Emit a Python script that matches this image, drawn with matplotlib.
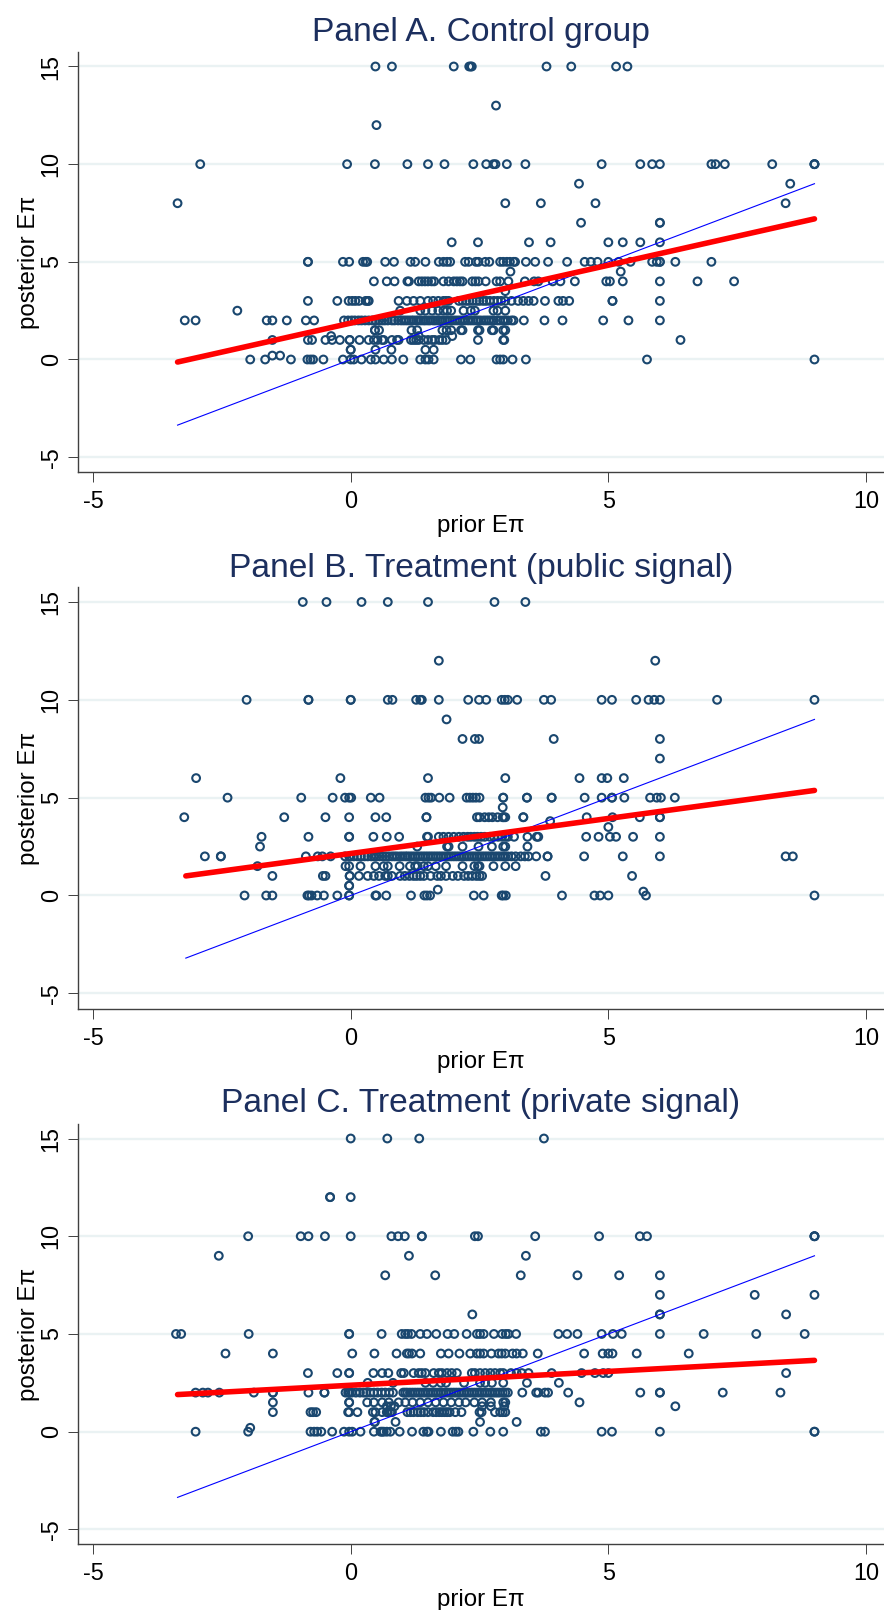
import matplotlib
matplotlib.use("Agg")
import matplotlib.pyplot as plt

plt.rcParams['font.family'] = ['Liberation Sans', 'DejaVu Sans']
plt.rcParams['axes.unicode_minus'] = False

W, H = 884, 1610

titles = ["Panel A. Control group", "Panel B. Treatment (public signal)", "Panel C. Treatment (private signal)"]
x_ticks = [-5, 0, 5, 10]
y_ticks = [-5, 0, 5, 10, 15]

# Panel A, prior values listed by posterior level
a_levels = [15, 13, 12, 10, 9, 8, 7, 6, 5, 4.5, 4, 3.5, 3, 2.5, 2, 1.5, 1.2, 1, 0.5, 0.2, 0]
a_priors = [
    [0.48, 0.8, 2.0, 2.3, 2.33, 2.35, 3.8, 4.28, 5.15, 5.37],
    [2.82],
    [0.5],
    [-2.92, -0.07, 0.47, 1.1, 1.5, 1.82, 2.38, 2.63, 2.77, 2.81, 3.03, 3.39, 4.87, 5.62, 5.85, 6.0, 7.0, 7.08, 7.26, 8.18, 9, 9, 9],
    [4.43, 8.53],
    [-3.36, 3.0, 3.69, 4.75, 8.44],
    [4.47, 6, 6],
    [1.96, 2.47, 3.46, 3.88, 5, 5.28, 5.62, 6],
    [-0.83, -0.83, -0.15, -0.03, 0.24, 0.29, 0.32, 0.67, 0.84, 1.16, 1.25, 1.45, 1.71, 1.8, 1.87, 1.93, 2.22, 2.29, 2.43, 2.48, 2.61, 2.69,
     2.9, 2.96, 3.03, 3.09, 3.16, 3.19, 3.4, 3.58, 3.83, 4.2, 4.54, 4.66, 4.79, 5, 5.2, 5.43, 5.85, 5.94, 6, 6, 6.3, 7],
    [3.1, 5.24],
    [0.45, 0.7, 0.85, 1.1, 1.13, 1.32, 1.38, 1.44, 1.5, 1.57, 1.62, 1.8, 1.9, 2.0, 2.06, 2.12, 2.17, 2.36, 2.42, 2.48, 2.62, 2.83, 2.9, 3.06,
     3.38, 3.56, 3.64, 3.92, 4.07, 4.35, 4.96, 5.03, 5.28, 6, 6.73, 7.44],
    [3.0],
    [-0.83, -0.26, -0.04, 0.03, 0.09, 0.16, 0.29, 0.33, 0.35, 0.93, 1.09, 1.22, 1.35, 1.5, 1.6, 1.7, 1.8, 1.85, 1.9, 2.1, 2.17, 2.24, 2.3, 2.37,
     2.44, 2.5, 2.57, 2.63, 2.7, 2.78, 2.85, 2.92, 3.0, 3.12, 3.25, 3.35, 3.45, 3.55, 3.77, 4.03, 4.12, 4.24, 5.08, 5.08, 6],
    [-2.2, 0.96, 1.35, 1.45, 1.58, 1.7, 1.8, 1.87, 1.95, 2.19, 2.33, 2.41, 2.77, 2.85, 3.0],
    [-3.22, -3.01, -1.63, -1.52, -1.24, -0.87, -0.71, -0.13, -0.05, 0.02, 0.08, 0.15, 0.21, 0.28, 0.35, 0.42, 0.48, 0.55, 0.61, 0.66, 0.72, 0.8,
     0.85, 0.92, 0.98, 1.03, 1.08, 1.13, 1.18, 1.22, 1.27, 1.31, 1.36, 1.41, 1.45, 1.5, 1.54, 1.6, 1.64, 1.69, 1.73, 1.78, 1.83, 1.88, 1.92, 1.97,
     2.02, 2.07, 2.12, 2.17, 2.22, 2.28, 2.33, 2.38, 2.43, 2.47, 2.52, 2.58, 2.63, 2.68, 2.73, 2.78, 2.85, 2.9, 2.96, 3.0, 3.05, 3.12, 3.16, 3.36,
     3.76, 4.11, 4.9, 5.39, 6],
    [0.47, 0.47, 0.55, 1.18, 1.29, 1.78, 1.86, 1.95, 2.14, 2.17, 2.47, 2.5, 2.74, 2.77, 2.96, 3.0],
    [-0.38, 1.32, 1.97],
    [-1.52, -0.83, -0.75, -0.49, -0.36, -0.21, -0.02, -0.02, 0.17, 0.35, 0.45, 0.52, 0.61, 0.64, 0.8, 0.9, 0.93, 1.17, 1.22, 1.27, 1.32, 1.42, 1.5,
     1.58, 1.63, 1.72, 1.78, 1.85, 2.47, 2.96, 2.98, 6.4],
    [-0.0, 0.0, 0.48, 0.79, 1.45, 1.61],
    [-1.52, -1.37],
    [-1.95, -1.66, -1.16, -0.84, -0.78, -0.73, -0.53, -0.15, 0, 0.06, 0.21, 0.39, 0.48, 0.64, 0.8, 1.02, 1.35, 1.45, 1.51, 1.61, 2.14, 2.32, 2.83,
     2.9, 2.96, 3.14, 3.4, 5.75, 9],
]

# Panel B
b_levels = [15, 12, 10, 9, 8, 7, 6, 5, 4.5, 4, 3.8, 3.5, 3, 2.5, 2, 1.5, 1, 0.5, 0.3, 0.2, 0]
b_priors = [
    [-0.93, -0.47, 0.21, 0.72, 1.5, 2.79, 3.39],
    [1.71, 5.91],
    [-2.02, -0.82, -0.82, 0, 0, 0.72, 0.81, 1.27, 1.35, 1.38, 1.71, 2.28, 2.49, 2.63, 2.93, 2.99, 3.05, 3.23, 3.75, 3.89, 4.87, 5.07, 5.54, 5.78, 5.89, 6, 7.11, 9],
    [1.86],
    [2.17, 2.41, 2.49, 3.94, 6],
    [6],
    [-3, -0.2, 1.5, 3, 4.44, 4.87, 4.98, 5.3],
    [-2.39, -0.96, -0.35, -0.11, -0.03, 0.01, 0.39, 0.56, 1.45, 1.51, 1.56, 1.72, 1.92, 2.25, 2.31, 2.37, 2.43, 2.5, 2.96, 2.96, 3.42, 3.42, 3.9, 3.9,
     4.54, 4.87, 5.07, 5.07, 5.31, 5.81, 5.94, 6.02, 6.29],
    [2.95],
    [-3.23, -1.29, -0.49, -0.03, 0.48, 0.69, 1.47, 1.47, 2.45, 2.5, 2.6, 2.68, 2.75, 2.85, 2.95, 2.97, 3.0, 3.35, 3.35, 4.58, 5.08, 5.61, 6, 6],
    [3.87],
    [5],
    [-1.73, -0.82, -0.03, -0.03, 0.44, 0.7, 0.94, 1.48, 1.5, 1.71, 1.8, 1.9, 2, 2.1, 2.19, 2.27, 2.33, 2.4, 2.46, 2.53, 2.6, 2.7, 2.78, 2.86, 2.94, 3.0, 3.05,
     3.17, 3.43, 3.61, 3.64, 4.57, 4.81, 5.03, 5.15, 5.48, 6],
    [-1.76, 1.29, 1.87, 1.9, 2.17, 2.48, 2.74, 2.96, 3, 3.43],
    [-2.83, -2.52, -2.52, -0.87, -0.64, -0.55, -0.39, -0.11, -0.03, 0, 0.06, 0.13, 0.2, 0.27, 0.33, 0.4, 0.45, 0.5, 0.56, 0.62, 0.68, 0.74, 0.8, 0.85,
     0.9, 0.96, 1.01, 1.06, 1.1, 1.15, 1.2, 1.25, 1.3, 1.35, 1.4, 1.45, 1.5, 1.55, 1.6, 1.65, 1.7, 1.75, 1.8, 1.85, 1.9, 1.95, 2, 2.05, 2.1, 2.15, 2.2, 2.25,
     2.3, 2.35, 2.4, 2.45, 2.5, 2.55, 2.6, 2.65, 2.7, 2.75, 2.8, 2.85, 2.9, 2.95, 3, 3.05, 3.12, 3.2, 3.3, 3.38, 3.45, 3.6, 3.82, 3.82, 4.53, 5.28, 6, 8.44, 8.58],
    [-1.81, -0.1, -0.03, 0.19, 0.48, 0.64, 0.72, 0.95, 1.15, 1.25, 1.3, 1.42, 1.5, 1.65, 1.85, 2.17, 2.4, 2.47, 2.5, 2.77, 3.0, 3.2],
    [-1.52, -0.54, -0.49, -0.02, -0.02, 0.16, 0.33, 0.45, 0.55, 0.67, 0.72, 0.8, 0.96, 1.05, 1.14, 1.22, 1.28, 1.35, 1.42, 1.55, 1.68, 1.75, 1.85, 1.98, 2.08, 2.2,
     2.28, 2.36, 2.44, 2.5, 2.55, 3.78, 5.46],
    [-0.03, -0.03],
    [1.69],
    [5.68],
    [-2.06, -1.64, -1.52, -0.84, -0.81, -0.76, -0.65, -0.52, -0.26, -0.03, -0.03, 0.48, 0.5, 0.69, 1.17, 1.43, 1.48, 1.54, 2.39, 2.58, 2.93, 2.96, 3.01, 4.1, 4.73, 4.84, 5, 5.73, 9],
]

# Panel C
c_levels = [15, 12, 10, 9, 8, 7, 6, 5, 4, 3, 2.5, 2, 1.5, 1.3, 1, 0.5, 0.2, 0]
c_priors = [
    [0, 0.71, 1.33, 3.75],
    [-0.4, -0.4, 0],
    [-1.99, -0.97, -0.82, -0.5, 0, 0.79, 0.92, 1.05, 1.38, 1.38, 2.41, 2.47, 3.58, 4.82, 5.61, 5.75, 9, 9, 9],
    [-2.56, 1.13, 3.4],
    [0.67, 1.64, 3.3, 4.4, 5.21, 6],
    [6, 7.84, 9],
    [2.36, 6, 6, 8.45],
    [-3.39, -3.29, -1.98, -0.03, -0.03, 0.6, 0.99, 1.06, 1.11, 1.18, 1.35, 1.48, 1.66, 1.88, 2.01, 2.25, 2.45, 2.51, 2.58, 2.78, 2.94, 3.01, 3.06, 3.21,
     4.03, 4.2, 4.4, 4.87, 5.09, 5.26, 6, 6.85, 7.87, 8.81],
    [-2.43, -1.51, 0.03, 0.46, 0.89, 1.09, 1.13, 1.19, 1.35, 1.75, 1.9, 2.11, 2.32, 2.45, 2.51, 2.58, 2.73, 2.87, 2.93, 3, 3.14, 3.22, 3.34, 3.63, 4.53, 4.89, 5, 5.08, 5.55, 6.56],
    [-0.83, -0.26, -0.03, -0.03, 0.44, 0.61, 0.73, 0.98, 1.03, 1.22, 1.32, 1.38, 1.45, 1.61, 1.71, 1.77, 1.87, 1.96, 2.06, 2.35, 2.41, 2.51, 2.61, 2.71, 2.8, 2.9, 2.96,
     3.11, 3.22, 3.32, 3.45, 3.9, 4.48, 4.74, 4.9, 5, 8.45],
    [0.33, 0.82, 1.45, 1.6, 1.75, 1.85, 2.2, 2.51, 2.61, 2.74, 2.96, 3.42, 4.04],
    [-3.01, -2.87, -2.77, -2.55, -1.88, -1.51, -1.51, -0.82, -0.51, -0.51, -0.1, -0.05, -0.02, 0.02, 0.1, 0.18, 0.25, 0.3, 0.38, 0.45, 0.52, 0.6, 0.67, 0.75, 0.82, 1.02,
     1.06, 1.1, 1.15, 1.2, 1.25, 1.3, 1.35, 1.4, 1.45, 1.5, 1.55, 1.6, 1.65, 1.7, 1.75, 1.8, 1.85, 1.9, 1.95, 2, 2.05, 2.1, 2.15, 2.2, 2.25, 2.3, 2.35, 2.4, 2.45,
     2.5, 2.55, 2.6, 2.65, 2.7, 2.75, 2.8, 2.85, 2.9, 2.95, 3, 3.05, 3.33, 3.6, 3.64, 3.77, 3.83, 4.22, 5.62, 6, 6, 7.22, 8.34],
    [-1.51, -0.03, -0.03, 0.32, 0.45, 0.61, 0.74, 0.93, 1.06, 1.2, 1.35, 1.5, 1.65, 1.8, 1.95, 2.1, 2.23, 2.4, 2.55, 2.72, 2.96, 3, 4.44],
    [0.7, 0.78, 0.85, 2.55, 2.72, 2.98, 6.3],
    [-1.51, -0.78, -0.73, -0.67, -0.05, -0.03, 0.13, 0.43, 0.48, 0.61, 0.7, 0.72, 0.77, 0.8, 1.1, 1.16, 1.22, 1.3, 1.36, 1.42, 1.5, 1.6, 1.66, 1.72, 1.77, 1.82, 1.87,
     1.92, 2.03, 2.15, 2.5, 2.54, 2.8, 2.9, 2.95, 3.0],
    [0.47, 0.46, 0.87, 2.51, 3.22],
    [-1.95],
    [-3.01, -1.99, -0.78, -0.71, -0.65, -0.57, -0.36, -0.13, -0.03, 0.03, 0.19, 0.45, 0.58, 0.61, 0.64, 0.7, 0.77, 0.95, 1.19, 1.41, 1.48, 1.51, 1.75, 1.98, 2.04, 2.09,
     2.38, 2.71, 2.96, 3.69, 3.77, 4.87, 5.07, 6, 9, 9],
]

# fitted line end points (x, y) per panel, thin line is the 45 degree line
fit_x = [[-3.36, 9], [-3.2, 9], [-3.36, 9]]
fit_y = [[-0.13, 7.2], [1.0, 5.37], [1.9, 3.65]]

# pixel layout per panel: top, bottom of axes, y pixel of 15 and of 0
tops = [52, 587, 1124]
bottoms = [472, 1009, 1544]
y15 = [66.5, 602, 1138.5]
y0 = [359.5, 895.5, 1431.7]
title_y = [32, 569, 1103]
xlabel_y = [526, 1062, 1600]
left, right = 78, 884
x_at_0, x_per_unit = 350.7, 51.53

navy = "#1a476f"
title_col = "#1c2f5e"
grid_col = "#eaf2f3"
axis_col = "#404040"

fig = plt.figure(figsize=(W / 100, H / 100), dpi=100)

panels = [(a_levels, a_priors), (b_levels, b_priors), (c_levels, c_priors)]
for i, (levels, priors) in enumerate(panels):
    ax = fig.add_axes([left / W, 1 - bottoms[i] / H, (right - left) / W, (bottoms[i] - tops[i]) / H])

    xs, ys = [], []
    for lev, row in zip(levels, priors):
        xs += row
        ys += [lev] * len(row)

    ax.set_xlim((left - x_at_0) / x_per_unit, (right - x_at_0) / x_per_unit)
    per_y = (y0[i] - y15[i]) / 15
    ax.set_ylim((y0[i] - bottoms[i]) / per_y, (y0[i] - tops[i]) / per_y)

    ax.grid(axis='y', color=grid_col, lw=1.7, zorder=0)
    ax.set_axisbelow(True)
    ax.scatter(xs, ys, s=31, facecolors='none', edgecolors=navy, linewidths=1.5, zorder=3, clip_on=False)
    ax.plot([fit_x[i][0], 9], [fit_x[i][0], 9], color='#0000ff', lw=0.8, zorder=4)
    ax.plot(fit_x[i], fit_y[i], color='#ff0000', lw=4, zorder=5, solid_capstyle='round')

    ax.spines['top'].set_visible(False)
    ax.spines['right'].set_visible(False)
    ax.spines['left'].set_linewidth(1.0)
    ax.spines['bottom'].set_linewidth(1.0)
    ax.spines['left'].set_color(axis_col)
    ax.spines['bottom'].set_color(axis_col)

    ax.set_xticks(x_ticks)
    ax.set_yticks(y_ticks)
    ax.tick_params(axis='both', length=7, width=0.7, color=axis_col, labelsize=16.8)
    ax.tick_params(axis='x', pad=6)
    ax.tick_params(axis='y', pad=4)
    for lab in ax.get_yticklabels():
        lab.set_rotation(90)
        lab.set_va('center')

    fig.text(481 / W, 1 - xlabel_y[i] / H, "prior E\u03c0", ha='center', va='center', fontsize=17.4)
    fig.text(29 / W, 1 - ((tops[i] + bottoms[i]) / 2) / H, "posterior E\u03c0", rotation=90, ha='center', va='center', fontsize=17.4)
    fig.text(481 / W, 1 - title_y[i] / H, titles[i], ha='center', va='center', fontsize=24.2, color=title_col)

fig.savefig("out.png", dpi=100)
